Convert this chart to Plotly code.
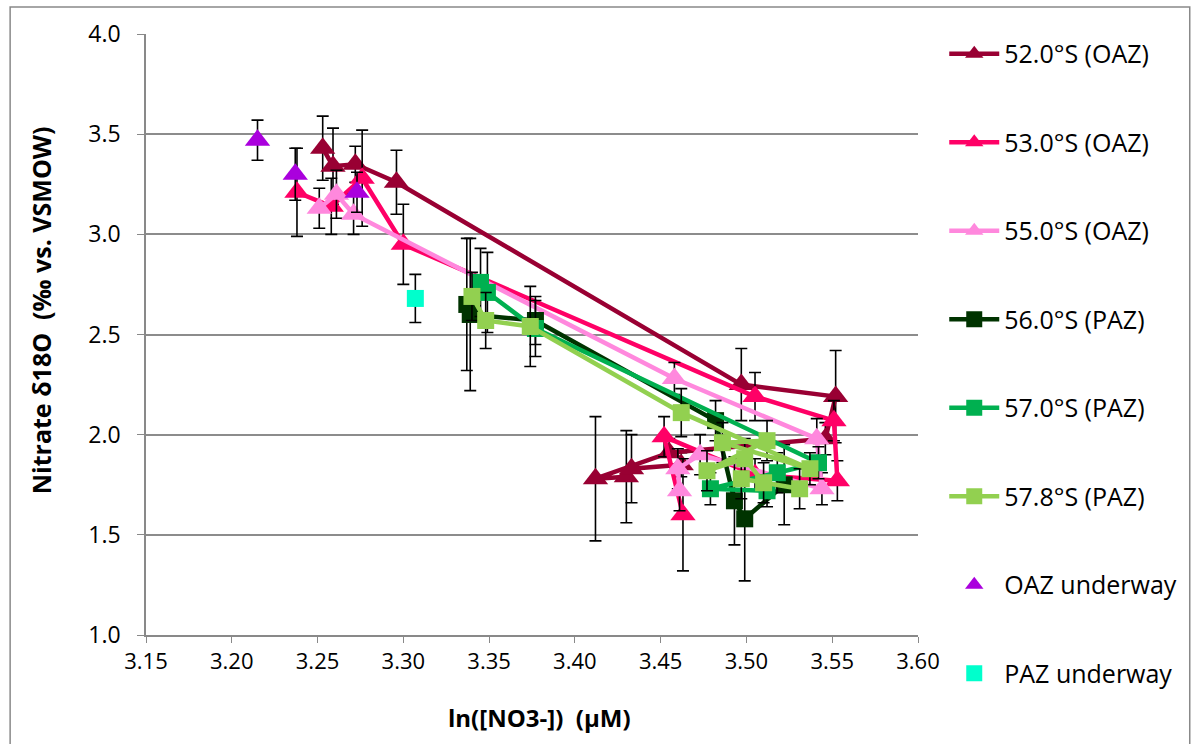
import plotly.graph_objects as go

# ---- data ----
names = ["52.0°S (OAZ)", "53.0°S (OAZ)", "55.0°S (OAZ)", "56.0°S (PAZ)", "57.0°S (PAZ)", "57.8°S (PAZ)", "OAZ underway", "PAZ underway"]

x52 = [3.253, 3.259, 3.272, 3.296, 3.497, 3.552, 3.546, 3.455, 3.412, 3.430, 3.433, 3.462]
y52 = [3.43, 3.34, 3.35, 3.26, 2.25, 2.19, 1.98, 1.91, 1.78, 1.79, 1.83, 1.85]
e52 = [0.16, 0.19, 0.09, 0.16, 0.18, 0.23, 0.08, 0.07, 0.31, 0.23, 0.17, 0.06]

x53 = [3.238, 3.258, 3.276, 3.300, 3.505, 3.551, 3.553, 3.505, 3.452, 3.463]
y53 = [3.21, 3.14, 3.28, 2.95, 2.19, 2.07, 1.77, 1.80, 1.99, 1.60]
e53 = [0.22, 0.14, 0.24, 0.20, 0.12, 0.10, 0.10, 0.08, 0.10, 0.28]

x55 = [3.251, 3.261, 3.271, 3.458, 3.541, 3.544, 3.473, 3.460, 3.461]
y55 = [3.13, 3.20, 3.10, 2.28, 1.98, 1.73, 1.90, 1.83, 1.72]
e55 = [0.10, 0.12, 0.10, 0.08, 0.10, 0.08, 0.10, 0.10, 0.10]

x56 = [3.337, 3.339, 3.377, 3.482, 3.493, 3.499, 3.522]
y56 = [2.65, 2.60, 2.57, 2.07, 1.67, 1.58, 1.75]
e56 = [0.33, 0.38, 0.12, 0.10, 0.22, 0.31, 0.20]

x57 = [3.345, 3.349, 3.377, 3.542, 3.518, 3.479, 3.512]
y57 = [2.76, 2.71, 2.53, 1.86, 1.81, 1.73, 1.72]
e57 = [0.17, 0.20, 0.14, 0.08, 0.10, 0.08, 0.08]

x578 = [3.340, 3.348, 3.374, 3.462, 3.537, 3.486, 3.512, 3.477, 3.499, 3.510, 3.531, 3.497]
y578 = [2.69, 2.57, 2.54, 2.11, 1.83, 1.96, 1.97, 1.82, 1.88, 1.76, 1.73, 1.78]
e578 = [0.12, 0.14, 0.20, 0.12, 0.08, 0.10, 0.10, 0.10, 0.10, 0.10, 0.10, 0.10]

xOAZ = [3.215, 3.237, 3.273]
yOAZ = [3.47, 3.30, 3.21]
eOAZ = [0.10, 0.13, 0.10]

xPAZ = [3.307]
yPAZ = [2.68]
ePAZ = [0.12]

x_ticks = [3.15, 3.20, 3.25, 3.30, 3.35, 3.40, 3.45, 3.50, 3.55, 3.60]
y_ticks = [1.0, 1.5, 2.0, 2.5, 3.0, 3.5, 4.0]

series = [
    (x52, y52, e52, "#990033", "triangle-up", "lines+markers"),
    (x53, y53, e53, "#FF0066", "triangle-up", "lines+markers"),
    (x55, y55, e55, "#FF88DD", "triangle-up", "lines+markers"),
    (x56, y56, e56, "#003300", "square", "lines+markers"),
    (x57, y57, e57, "#00B050", "square", "lines+markers"),
    (x578, y578, e578, "#92D050", "square", "lines+markers"),
    (xOAZ, yOAZ, eOAZ, "#AA00DD", "triangle-up", "markers"),
    (xPAZ, yPAZ, ePAZ, "#00FFCC", "square", "markers"),
]

FONT = "Open Sans"
fig = go.Figure()
for i, (xs, ys, es, col, sym, mode) in enumerate(series):
    size = 22 if sym == "triangle-up" else 17
    fig.add_trace(go.Scatter(
        x=xs, y=ys, mode=mode, name=names[i], legendgroup=str(i),
        line=dict(color=col, width=4.5),
        marker=dict(color=col, symbol=sym, size=size, line=dict(width=0)),
        error_y=dict(type="data", array=es, visible=True, color="black", thickness=1.6, width=6),
    ))

fig.update_layout(
    width=1192, height=744,
    margin=dict(l=146, r=274, t=34, b=109, autoexpand=False),
    paper_bgcolor="white", plot_bgcolor="white",
    font=dict(family=FONT, size=22, color="black"),
    showlegend=True,
    legend=dict(x=1.034, y=1.005, xanchor="left", yanchor="top",
                font=dict(family=FONT, size=25, color="black"),
                tracegroupgap=53, itemwidth=50, maxheight=730, bgcolor="rgba(0,0,0,0)"),
    xaxis=dict(range=[3.15, 3.60], tickvals=x_ticks, ticktext=[f"{v:.2f}" for v in x_ticks],
               showgrid=False, zeroline=False, showline=True, linecolor="#898989", linewidth=1.5,
               ticks="outside", ticklen=6, tickcolor="#898989",
               tickfont=dict(family=FONT, size=22)),
    yaxis=dict(range=[1.0, 4.0], tickvals=y_ticks, ticktext=[f"{v:.1f}" for v in y_ticks],
               showgrid=True, gridcolor="#8C8C8C", gridwidth=1.5, zeroline=False,
               showline=True, linecolor="#898989", linewidth=1.5,
               ticks="outside", ticklen=7, tickcolor="#898989", ticklabelstandoff=12,
               tickfont=dict(family=FONT, size=23)),
)

fig.add_annotation(text="<b>ln([NO3-])  (µM)</b>", xref="paper", yref="paper", x=0.51, y=-0.138,
                   showarrow=False, font=dict(family=FONT, size=24), xanchor="center", yanchor="middle")
fig.add_annotation(text="<b>Nitrate δ18O  (‰ vs. VSMOW)</b>", xref="paper", yref="paper", x=-0.135, y=0.54,
                   showarrow=False, textangle=-90, font=dict(family=FONT, size=25), xanchor="center", yanchor="middle")

fig.add_shape(type="rect", xref="paper", yref="paper", x0=-0.176, x1=1.352, y0=-0.25, y1=1.045,
              line=dict(color="#898989", width=1.5), fillcolor="rgba(0,0,0,0)", layer="below")

fig.write_html("out.html")
